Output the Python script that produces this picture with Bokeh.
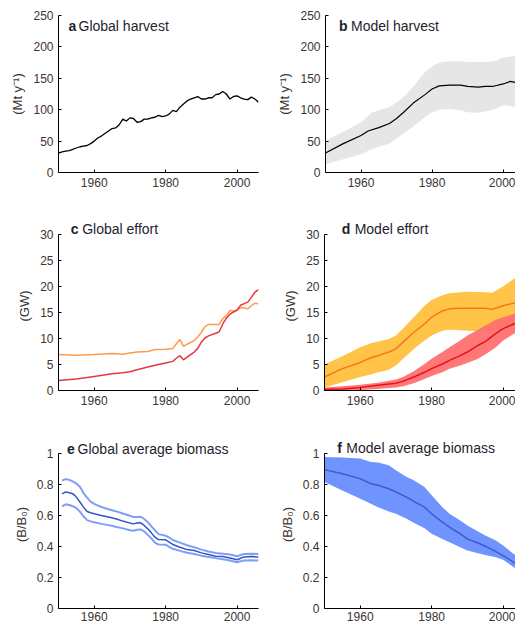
from bokeh.plotting import figure
from bokeh.models import Range1d, FixedTicker, Label
from bokeh.layouts import column, row
from bokeh.embed import file_html
from bokeh.resources import INLINE

# ---------------- data ----------------
x_ticks = [1960, 1980, 2000]
x_tick_labels = ["1960", "1980", "2000"]

harvest_ticks = [0, 50, 100, 150, 200, 250]
harvest_tick_labels = ["0", "50", "100", "150", "200", "250"]
effort_ticks = [0, 5, 10, 15, 20, 25, 30]
effort_tick_labels = ["0", "5", "10", "15", "20", "25", "30"]
biomass_ticks = [0, 0.2, 0.4, 0.6, 0.8, 1.0]
biomass_tick_labels = ["0", "0.2", "0.4", "0.6", "0.8", "1"]

# a: global harvest (Mt/y)
a_years = list(range(1950, 2007))
a_harvest = [31, 33, 34, 35, 37, 39, 41, 42, 43, 46,
             50, 55, 58, 62, 66, 70, 71, 76, 85, 82,
             87, 86, 80, 81, 85, 85, 87, 88, 91, 89,
             90, 93, 99, 97, 104, 109, 114, 117, 119, 121,
             117, 117, 119, 119, 124, 125, 129, 125, 117, 121,
             122, 119, 117, 116, 120, 117, 112]

# b: model harvest
b_years = [1950, 1955, 1960, 1962, 1965, 1968, 1970, 1972, 1975, 1978, 1980,
           1982, 1985, 1988, 1990, 1993, 1995, 1997, 2000, 2002, 2004, 2006]
b_median = [31, 46, 59, 66, 71.5, 78, 86, 96, 112, 124, 133,
            138, 139, 139, 137, 136, 137, 137, 141, 145, 143, 144]
b_band_years = [1950, 1955, 1960, 1963, 1965, 1968, 1970, 1972, 1975, 1978, 1980,
                1982, 1985, 1988, 1990, 1993, 1995, 1998, 2000, 2003, 2006]
b_upper = [51, 65, 80, 95, 99, 104, 112, 120, 139, 160, 169,
           175, 177, 177, 176, 176, 176, 178, 183, 185, 185]
b_lower = [13, 21, 29, 37, 41, 46, 54, 62, 75, 88, 96,
           100, 101, 99, 96, 95, 97, 102, 107, 105, 104]

# c: global effort (GW)
c_orange_years = [1950, 1955, 1960, 1965, 1968, 1970, 1972, 1975, 1977, 1980,
                  1982, 1983, 1984, 1985, 1986, 1988, 1989, 1990, 1991, 1992,
                  1995, 1996, 1997, 1998, 1999, 2000, 2001, 2002, 2003, 2004,
                  2005, 2006]
c_orange = [6.9, 6.8, 6.9, 7.1, 6.95, 7.2, 7.4, 7.5, 7.9, 7.95,
            8.1, 9.0, 9.8, 8.5, 8.9, 9.6, 10.3, 11.2, 12.3, 12.7,
            12.7, 13.8, 14.4, 15.4, 15.3, 15.4, 15.9, 15.9, 15.7, 16.3,
            16.8, 16.7]
c_red_years = [1950, 1955, 1960, 1965, 1968, 1970, 1972, 1975, 1978, 1980,
               1982, 1983, 1984, 1985, 1986, 1988, 1989, 1990, 1991, 1992,
               1994, 1995, 1996, 1997, 1998, 1999, 2000, 2001, 2002, 2003,
               2004, 2005, 2006]
c_red = [1.9, 2.2, 2.7, 3.2, 3.4, 3.6, 4.0, 4.5, 5.0, 5.3,
         5.6, 6.2, 6.7, 5.9, 6.4, 7.4, 8.1, 9.3, 10.1, 10.5,
         11.0, 11.3, 12.8, 13.9, 14.7, 15.1, 15.5, 16.4, 16.7, 17.0,
         17.9, 18.9, 19.4]

# d: model effort
d_orange_years = [1950, 1955, 1960, 1963, 1965, 1968, 1970, 1972, 1975, 1978,
                  1980, 1983, 1985, 1988, 1990, 1995, 1997, 2000, 2003, 2006]
d_orange_median = [2.6, 4.2, 5.4, 6.3, 6.7, 7.4, 8.0, 9.3, 11.2, 12.8,
                   14.1, 15.3, 15.7, 15.8, 15.8, 15.8, 15.6, 16.3, 16.8, 16.9]
d_orange_upper = [5.0, 6.6, 8.3, 9.1, 9.4, 9.9, 10.6, 11.9, 14.1, 16.3,
                  17.4, 18.3, 18.7, 18.9, 19.0, 18.9, 18.8, 20.0, 21.5, 21.8]
d_orange_lower = [0.6, 1.6, 2.6, 3.1, 3.5, 4.0, 4.8, 6.1, 8.0, 9.6,
                  10.6, 11.5, 11.7, 11.6, 11.5, 11.4, 11.5, 12.2, 12.8, 13.0]
d_red_years = [1950, 1955, 1960, 1965, 1970, 1972, 1975, 1978, 1980, 1983,
               1985, 1988, 1990, 1993, 1995, 1998, 2000, 2003, 2006]
d_red_median = [0.2, 0.3, 0.6, 1.0, 1.4, 1.8, 2.6, 3.5, 4.2, 5.1,
                5.8, 6.7, 7.4, 8.7, 9.4, 11.0, 11.9, 12.8, 13.6]
d_red_upper = [0.6, 0.8, 1.1, 1.5, 2.1, 2.6, 3.7, 5.1, 6.1, 7.4,
               8.3, 9.6, 10.6, 11.7, 12.5, 13.6, 14.1, 14.7, 15.2]
d_red_lower = [0.0, 0.05, 0.1, 0.3, 0.6, 0.8, 1.4, 2.2, 2.8, 3.5,
               4.2, 4.8, 5.3, 6.1, 6.9, 8.3, 9.6, 10.9, 11.8]

# e: global average biomass (B/B0)
e_years = [1951, 1952, 1953, 1954, 1955, 1956, 1957, 1958, 1959, 1960,
           1962, 1964, 1966, 1968, 1970, 1971, 1972, 1973, 1974, 1975,
           1976, 1977, 1978, 1980, 1981, 1982, 1984, 1986, 1988, 1990,
           1992, 1994, 1996, 1998, 2000, 2001, 2002, 2004, 2006]
e_mid = [0.740, 0.752, 0.747, 0.741, 0.719, 0.687, 0.654, 0.626, 0.618, 0.611,
         0.600, 0.590, 0.579, 0.564, 0.551, 0.546, 0.551, 0.553, 0.536, 0.514,
         0.488, 0.460, 0.445, 0.443, 0.428, 0.413, 0.395, 0.380, 0.374, 0.359,
         0.348, 0.337, 0.335, 0.326, 0.315, 0.324, 0.333, 0.335, 0.333]
e_high = [0.825, 0.835, 0.830, 0.820, 0.806, 0.785, 0.745, 0.715, 0.690, 0.675,
          0.655, 0.640, 0.628, 0.613, 0.598, 0.590, 0.590, 0.592, 0.578, 0.557,
          0.530, 0.505, 0.480, 0.470, 0.458, 0.442, 0.425, 0.408, 0.395, 0.380,
          0.368, 0.358, 0.353, 0.348, 0.337, 0.345, 0.352, 0.353, 0.352]
e_low = [0.659, 0.672, 0.668, 0.660, 0.648, 0.625, 0.595, 0.570, 0.562, 0.556,
         0.546, 0.538, 0.527, 0.517, 0.505, 0.502, 0.508, 0.510, 0.497, 0.475,
         0.452, 0.425, 0.413, 0.412, 0.398, 0.385, 0.372, 0.360, 0.352, 0.341,
         0.333, 0.325, 0.318, 0.310, 0.298, 0.305, 0.310, 0.311, 0.310]

# f: model average biomass
f_years = [1950, 1955, 1960, 1963, 1965, 1968, 1970, 1973, 1975, 1978,
           1980, 1983, 1985, 1988, 1990, 1993, 1995, 1998, 2000, 2003, 2006]
f_median = [0.896, 0.870, 0.838, 0.805, 0.795, 0.773, 0.752, 0.719, 0.691, 0.654,
            0.611, 0.557, 0.525, 0.482, 0.449, 0.423, 0.402, 0.367, 0.341, 0.298, 0.26]
f_upper = [0.978, 0.974, 0.968, 0.946, 0.942, 0.924, 0.892, 0.849, 0.827, 0.784,
           0.730, 0.654, 0.611, 0.568, 0.536, 0.497, 0.471, 0.438, 0.406, 0.352, 0.30]
f_lower = [0.816, 0.762, 0.708, 0.676, 0.654, 0.626, 0.611, 0.579, 0.553, 0.518,
           0.482, 0.449, 0.428, 0.395, 0.374, 0.356, 0.346, 0.330, 0.315, 0.266, 0.22]

# ---------------- styling ----------------
FONT = "Liberation Sans"
TICK_COLOR = "#3a3434"
TITLE_COLOR = "#1e1e2e"


def make_panel(width, height, bl, br, bt, bb, x_end, y_top, y_axis_max,
               yticks, ylabels, ylabel, x_standoff=5):
    p = figure(width=width, height=height, output_backend="svg",
               toolbar_location=None, title=None,
               x_range=Range1d(1950, x_end), y_range=Range1d(0, y_top),
               min_border_left=bl, min_border_right=br,
               min_border_top=bt, min_border_bottom=bb)
    p.outline_line_color = None
    p.grid.visible = False
    p.xaxis.ticker = FixedTicker(ticks=x_ticks)
    p.xaxis.major_label_overrides = dict(zip(x_ticks, x_tick_labels))
    p.yaxis.ticker = FixedTicker(ticks=yticks)
    p.yaxis.major_label_overrides = dict(zip(yticks, ylabels))
    p.yaxis.bounds = (0, y_axis_max)
    for ax in p.axis:
        ax.axis_line_color = "black"
        ax.axis_line_width = 1
        ax.major_tick_in = 3
        ax.major_tick_out = 0
        ax.major_tick_line_color = "black"
        ax.minor_tick_line_color = None
        ax.major_label_text_font = FONT
        ax.major_label_text_font_size = "12px"
        ax.major_label_text_color = TICK_COLOR
    p.xaxis.major_label_standoff = x_standoff
    p.yaxis.major_label_standoff = 5
    p.yaxis.axis_label = ylabel
    p.yaxis.axis_label_text_font = FONT
    p.yaxis.axis_label_text_font_size = "13px"
    p.yaxis.axis_label_text_font_style = "normal"
    p.yaxis.axis_label_text_color = TICK_COLOR
    p.yaxis.axis_label_standoff = 5
    return p


def add_title(p, x, y, letter, text, offset):
    p.add_layout(Label(x=x, y=y, text=letter, text_font=FONT,
                       text_font_size="14px", text_font_style="bold",
                       text_color=TITLE_COLOR, text_baseline="middle"))
    p.add_layout(Label(x=x, y=y, x_offset=offset, text=text, text_font=FONT,
                       text_font_size="14px", text_color=TITLE_COLOR,
                       text_baseline="middle"))


LW, RW = 274, 241
LEFT_END, RIGHT_END = 2006, 2003.48
MT, MG = "(Mt y\u207b\u00b9)", "(GW)"
BB = "(B/B\u2080)"

# row 1 : frame 15 -> 172
pa = make_panel(LW, 220, 58, 16, 15, 48, LEFT_END, 250, 250, harvest_ticks,
                harvest_tick_labels, MT)
pa.line(a_years, a_harvest, line_color="black", line_width=1.3)
add_title(pa, 1952.8, 233, "a", "Global harvest", 10)

pb = make_panel(RW, 220, 50, 0, 15, 48, RIGHT_END, 250, 250, harvest_ticks,
                harvest_tick_labels, MT)
pb.varea(x=b_band_years, y1=b_lower, y2=b_upper, fill_color="#e6e6e6")
pb.line(b_years, b_median, line_color="black", line_width=1.2)
add_title(pb, 1953.8, 233, "b", "Model harvest", 12)

# row 2 : frame 221 -> 390 (30 at 234)
pc = make_panel(LW, 219, 58, 16, 1, 49, LEFT_END, 32.5, 30, effort_ticks,
                effort_tick_labels, MG)
pc.line(c_orange_years, c_orange, line_color="#ff9a4d", line_width=1.5)
pc.line(c_red_years, c_red, line_color="#e6373f", line_width=1.5)
add_title(pc, 1953.4, 31.0, "c", "Global effort", 11.5)

pd = make_panel(RW, 219, 50, 0, 1, 49, RIGHT_END, 32.5, 30, effort_ticks,
                effort_tick_labels, MG)
pd.varea(x=d_orange_years, y1=d_orange_lower, y2=d_orange_upper,
         fill_color="#ffc347")
pd.line(d_orange_years, d_orange_median, line_color="#f5771e", line_width=1.5)
pd.varea(x=d_red_years, y1=d_red_lower, y2=d_red_upper,
         fill_color="#ff7070", fill_alpha=0.95)
pd.line(d_red_years, d_red_median, line_color="#e5121c", line_width=1.5)
add_title(pd, 1954.8, 31.0, "d", "Model effort", 13)

# row 3 : frame 440 -> 608 (1 at 453)
pe = make_panel(LW, 185, 58, 16, 1, 16, LEFT_END, 1.084, 1.0, biomass_ticks,
                biomass_tick_labels, BB, x_standoff=3)
pe.line(e_years, e_high, line_color="#7f9ef7", line_width=2)
pe.line(e_years, e_low, line_color="#7f9ef7", line_width=2)
pe.line(e_years, e_mid, line_color="#3553c6", line_width=1.5)
add_title(pe, 1952.4, 1.03, "e", "Global average biomass", 10.5)

pf = make_panel(RW, 185, 50, 0, 1, 16, RIGHT_END, 1.084, 1.0, biomass_ticks,
                biomass_tick_labels, BB, x_standoff=3)
pf.varea(x=f_years, y1=f_lower, y2=f_upper, fill_color="#6f94fd")
pf.line(f_years, f_median, line_color="#3a5bd4", line_width=1.5)
add_title(pf, 1953.6, 1.034, "f", "Model average biomass", 9)

layout = column(row(pa, pb), row(pc, pd), row(pe, pf))

open("out.html", "w").write(file_html(layout, INLINE))
